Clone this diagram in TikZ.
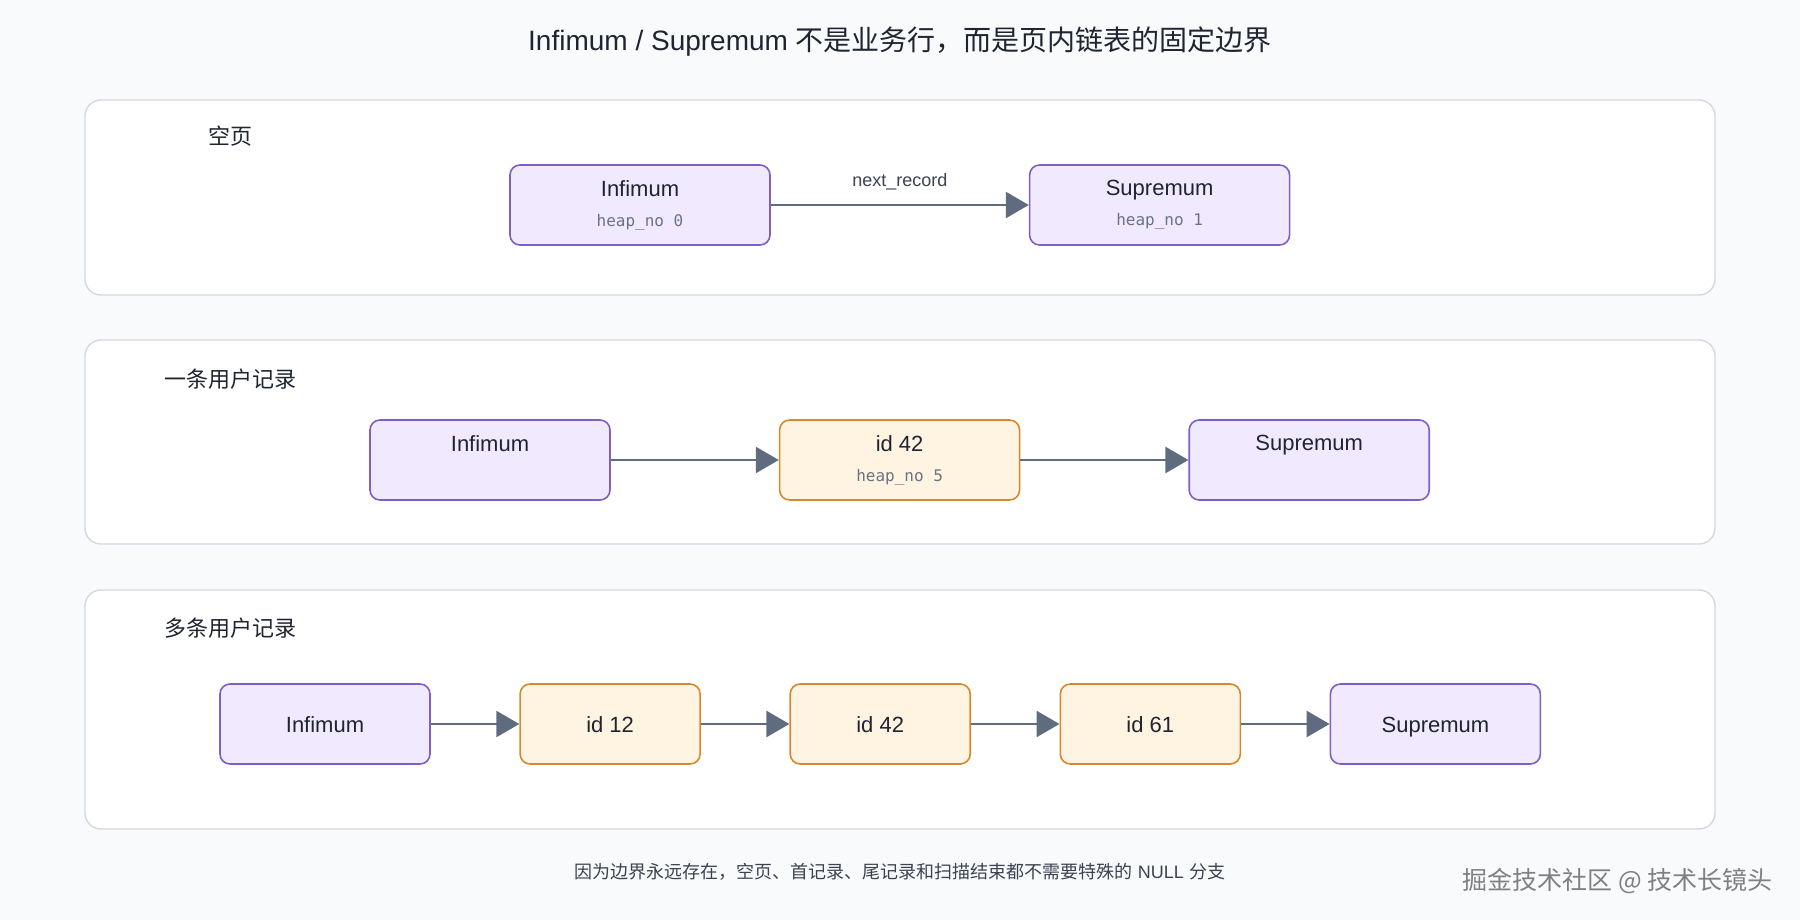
\documentclass[tikz,border=0pt]{standalone}
\usepackage{fontspec}
\setmainfont{Liberation Sans}
\newfontfamily\cjk{Noto Sans CJK SC}
\newfontfamily\hpfont{DejaVu Sans Mono}
\usetikzlibrary{arrows.meta,positioning}
\definecolor{bg}{HTML}{F8FAFC}
\definecolor{panelline}{HTML}{D3D9E1}
\definecolor{boundfill}{HTML}{F1EAFE}
\definecolor{boundline}{HTML}{7F5FC4}
\definecolor{recfill}{HTML}{FFF3E2}
\definecolor{recline}{HTML}{D5892F}
\definecolor{slate}{HTML}{5F6C80}
\definecolor{ink}{HTML}{1F2430}
\definecolor{hpgray}{HTML}{6B7280}
\definecolor{notegray}{HTML}{3C4250}
\newcommand{\titlefont}{\fontsize{28}{32}\selectfont}
\newcommand{\nodefont}{\fontsize{22}{26}\selectfont}
\newcommand{\hpsmall}{\hpfont\fontsize{16}{20}\selectfont\color{hpgray}}
\tikzset{panel/.style={draw=panelline,fill=white,line width=1.4pt,rounded corners=16pt,minimum width=1630pt,inner sep=0pt},
tag/.style={font=\nodefont\cjk,text=ink},
bound/.style={draw=boundline,fill=boundfill,line width=1.6pt,rounded corners=10pt,inner sep=0pt,align=center,font=\nodefont,text=ink,minimum height=80pt},
rec/.style={bound,draw=recline,fill=recfill},
one/.style={text height=16pt,text depth=0pt},
link/.style={-{Triangle[length=23pt,width=26pt]},line width=2.6pt,draw=slate},
lbl/.style={font=\fontsize{18}{22}\selectfont,text=notegray,inner sep=0pt}}
\begin{document}
\begin{tikzpicture}[x=1pt,y=-1pt,node distance=88.5pt]
\fill[bg] (0,0) rectangle (1800,920);
\node[font=\titlefont,text=ink] (title) at (900,42) {Infimum / Supremum {\cjk 不是业务行，而是页内链表的固定边界}};

\node[panel,minimum height=195pt] (p1) at (900,197.5) {};
\node[tag] (t1) at (230,136) {空页};
\node[bound,minimum width=260pt] (inf1) at (640,205) {Infimum\\[4pt]{\hpsmall heap\_no 0}};
\node[bound,minimum width=260pt,right=258pt of inf1] (sup1) {Supremum\\[4pt]{\hpsmall heap\_no 1}};
\draw[link] (inf1) -- node[lbl,above=14pt] {next\_record} (sup1);

\node[panel,minimum height=204pt] (p2) at (900,442) {};
\node[tag] (t2) at (230,379) {一条用户记录};
\node[bound,minimum width=240pt] (inf2) at (490,460) {Infimum\\[4pt]{\hpsmall\phantom{heap\_no 5}}};
\node[rec,minimum width=240pt,right=168pt of inf2] (r42) {id 42\\[4pt]{\hpsmall heap\_no 5}};
\node[bound,minimum width=240pt,right=168pt of r42] (sup2) {Supremum\\[4pt]{\hpsmall\phantom{heap\_no 5}}};
\draw[link] (inf2) -- (r42);
\draw[link] (r42) -- (sup2);

\node[panel,minimum height=239pt] (p3) at (900,709.5) {};
\node[tag] (t3) at (230,628) {多条用户记录};
\node[bound,one,minimum width=210pt] (inf3) at (325,724) {Infimum};
\node[rec,one,minimum width=180pt,right=of inf3] (a12) {id 12};
\node[rec,one,minimum width=180pt,right=of a12] (a42) {id 42};
\node[rec,one,minimum width=180pt,right=of a42] (a61) {id 61};
\node[bound,one,minimum width=210pt,right=of a61] (sup3) {Supremum};
\foreach \u/\v in {inf3/a12,a12/a42,a42/a61,a61/sup3}
  \draw[link] (\u) -- (\v);

\node[font=\fontsize{18}{22}\selectfont,text=notegray] (note) at (900,872) {{\cjk 因为边界永远存在，空页、首记录、尾记录和扫描结束都不需要特殊的} NULL {\cjk 分支}};
\node[font=\fontsize{25}{29}\selectfont\cjk,text=black!50,anchor=east] (mark) at (1776,881) {掘金技术社区 @ 技术长镜头};
\end{tikzpicture}
\end{document}
